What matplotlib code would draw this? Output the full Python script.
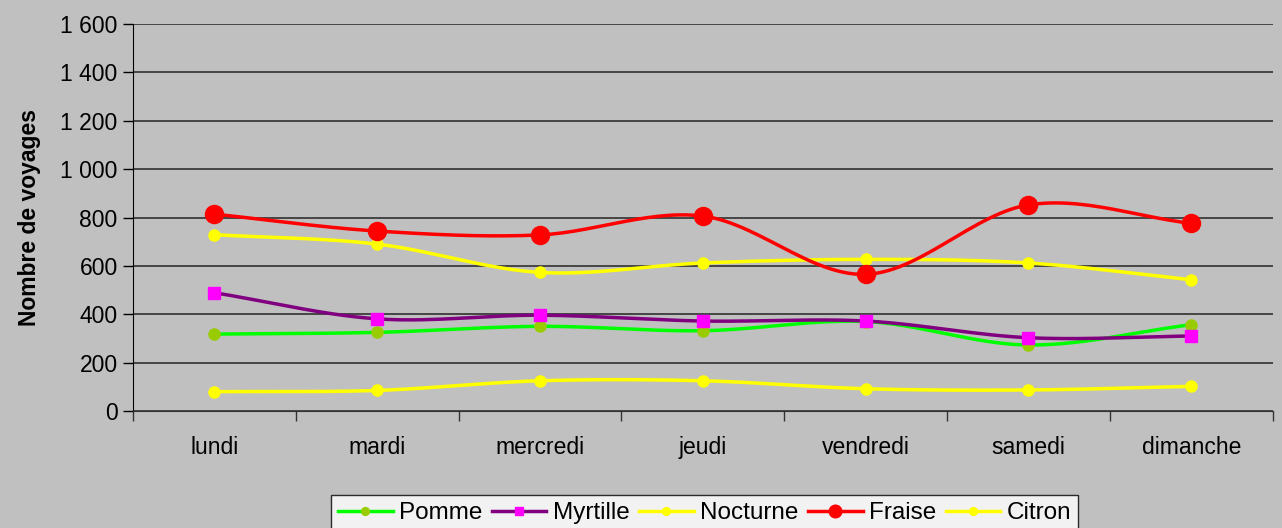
import numpy as np
import matplotlib.pyplot as plt
from matplotlib.ticker import FuncFormatter, MultipleLocator

plt.rcParams['font.family'] = ['Liberation Sans', 'DejaVu Sans']

jours = ['lundi', 'mardi', 'mercredi', 'jeudi', 'vendredi', 'samedi', 'dimanche']

pomme = [318, 325, 350, 332, 370, 273, 357]
myrtille = [489, 381, 396, 372, 372, 303, 310]
nocturne = [729, 690, 573, 612, 627, 612, 543]
fraise = [814, 744, 728, 806, 565, 852, 776]
citron = [80, 85, 125, 125, 92, 87, 102]


def smooth(x, y, n=30):
    # Catmull-Rom curve through the points, like Excel's smoothed lines
    x = np.asarray(x, float)
    y = np.asarray(y, float)
    px = np.concatenate([[2 * x[0] - x[1]], x, [2 * x[-1] - x[-2]]])
    py = np.concatenate([[2 * y[0] - y[1]], y, [2 * y[-1] - y[-2]]])
    xs, ys = [], []
    t = np.linspace(0, 1, n)
    for i in range(1, len(px) - 2):
        for p, out in ((px, xs), (py, ys)):
            p0, p1, p2, p3 = p[i - 1], p[i], p[i + 1], p[i + 2]
            c1 = p1 + (p2 - p0) / 6
            c2 = p2 - (p3 - p1) / 6
            out.extend((1 - t) ** 3 * p1 + 3 * (1 - t) ** 2 * t * c1
                       + 3 * (1 - t) * t ** 2 * c2 + t ** 3 * p2)
    return xs, ys


fig = plt.figure(figsize=(12.82, 5.28), dpi=100, facecolor='#c0c0c0')
ax = fig.add_axes([0.1037, 0.2216, 0.889, 0.7329])
ax.set_facecolor('#c0c0c0')

x = np.arange(len(jours))
series = [
    ('Pomme', pomme, '#00ff00', '#99cc00', 'o', 8),
    ('Myrtille', myrtille, '#800080', '#ff00ff', 's', 8),
    ('Nocturne', nocturne, '#ffff00', '#ffff00', 'o', 8),
    ('Fraise', fraise, '#ff0000', '#ff0000', 'o', 13),
    ('Citron', citron, '#ffff00', '#ffff00', 'o', 8),
]
for name, vals, lc, mc, mk, ms in series:
    sx, sy = smooth(x, vals)
    ax.plot(sx, sy, color=lc, lw=2.5, zorder=3)
    ax.plot(x, vals, ls='none', marker=mk, ms=ms, color=mc, mec=mc, zorder=4)
    ax.plot([], [], color=lc, lw=2.5, marker=mk, ms=ms * 0.7,
            mfc=mc, mec=mc, label=name)

ax.set_xlim(-0.5, 6.5)
ax.set_ylim(0, 1600)
ax.yaxis.set_major_locator(MultipleLocator(200))
ax.yaxis.set_major_formatter(FuncFormatter(lambda v, p: f'{int(v):,}'.replace(',', ' ')))
ax.set_xticks(x)
ax.set_xticklabels(jours)
ax.set_xticks(np.arange(-0.5, 7, 1), minor=True)
ax.tick_params(axis='x', which='major', length=0, pad=18, labelsize=16.5)
ax.tick_params(axis='x', which='minor', length=7, width=1, color='#333333', direction='out')
ax.tick_params(axis='y', length=7, width=1, direction='out', labelsize=16.5, pad=4)
ax.grid(axis='y', color='#303030', lw=1.2)
ax.set_axisbelow(True)
for s in ['top', 'right']:
    ax.spines[s].set_visible(False)
ax.spines['left'].set_color('black')
ax.spines['bottom'].set_color('#333333')
ax.set_ylabel('Nombre de voyages', fontsize=16.5, fontweight='bold', labelpad=14)

leg = fig.legend(loc='upper center', bbox_to_anchor=(0.5495, 0.0625), ncol=5,
                 fontsize=17.5, frameon=True, fancybox=False, edgecolor='black',
                 handlelength=2.25, handletextpad=0.25, columnspacing=0.4,
                 borderpad=0.3, borderaxespad=0)
leg.get_frame().set_linewidth(1)

fig.savefig('out.png', dpi=100, facecolor=fig.get_facecolor())
